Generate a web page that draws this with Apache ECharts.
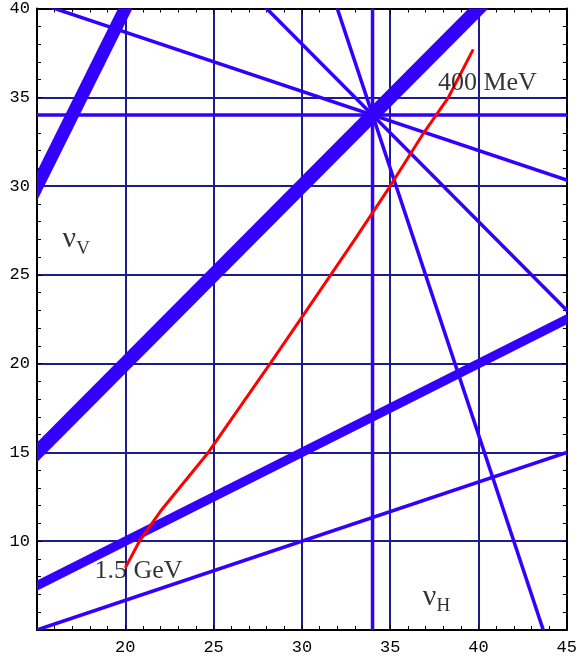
<!DOCTYPE html>
<html>
<head>
<meta charset="utf-8">
<script src="https://cdn.jsdelivr.net/npm/echarts@6/dist/echarts.min.js"></script>
<style>
html,body{margin:0;padding:0;background:#fff;}
#chart{width:580px;height:659px;}
</style>
</head>
<body>
<div id="chart"></div>
<script>
// Axis ranges and tick values
const xRange = [15, 45];
const yRange = [5, 40];
const xTickLabels = [20, 25, 30, 35, 40, 45];
const yTickLabels = [10, 15, 20, 25, 30, 35, 40];

// Resonance lines (endpoints in tune space)
const lineDiag   = [[14, 14], [41, 41]];        // nu_V = nu_H (thick)
const lineTwice  = [[14.5, 29], [20.5, 41]];    // nu_V = 2 nu_H (thick)
const lineHalf   = [[14, 7], [46, 23]];         // nu_V = nu_H / 2 (thick)
const lineThird  = [[14, 4.67], [46, 15.33]];   // nu_V = nu_H / 3
const lineX3Y    = [[13, 41], [46, 30]];        // nu_H + 3 nu_V = 136
const lineXY     = [[27, 41], [46, 22]];        // nu_H + nu_V = 68
const line3XY    = [[31.67, 41], [44, 4]];      // 3 nu_H + nu_V = 136
const lineV34    = [[34, 4], [34, 41]];         // nu_H = 34
const lineH34    = [[14, 34], [46, 34]];        // nu_V = 34

// Red tune path from 1.5 GeV to 400 MeV
const tunePath = [
  [20.0, 8.5], [20.8, 10.0], [22.0, 11.7], [24.7, 15.0], [28.2, 20.0],
  [30.4, 23.2], [33.0, 27.0], [35.0, 30.0], [36.9, 33.0], [38.3, 35.0], [39.7, 37.7]
];

// Text annotations
const labelPoints = [
  {pos: [37.7, 35.8], text: '{t|400 MeV}'},
  {pos: [18.25, 8.3], text: '{t|1.5 GeV}'},
  {pos: [16.45, 26.9], text: '{n|ν}{s|V}'},
  {pos: [36.85, 6.75], text: '{n|ν}{s|H}'}
];

const BLUE = '#3300ff';
const NAVY = '#1c1c8c';

function pathSeries(points, width, color, z) {
  return {
    type: 'custom', data: points, silent: true, clip: true, animation: false,
    xAxisIndex: 0, yAxisIndex: 0, z: z || 2,
    renderItem: function (params, api) {
      if (params.dataIndex !== 0) return null;
      const pts = points.map(p => api.coord(p));
      return {
        type: 'polyline',
        shape: {points: pts},
        style: {stroke: color || BLUE, lineWidth: width, fill: null, lineJoin: 'round'}
      };
    }
  };
}

const chart = echarts.init(document.getElementById('chart'), null, {renderer: 'canvas'});

const tickCommon = {
  axisLine: {show: true, onZero: false, lineStyle: {color: '#000', width: 2}},
  axisTick: {show: true, inside: true, length: 5, lineStyle: {color: '#000', width: 1}},
  minorTick: {show: true, splitNumber: 5, length: 4, lineStyle: {color: '#000', width: 1}},
};

const option = {
  backgroundColor: '#fff',
  animation: false,
  grid: {left: 37, right: 8, top: 8, bottom: 29, containLabel: false},
  xAxis: [
    Object.assign({
      type: 'value', position: 'bottom', min: xRange[0], max: xRange[1], interval: 5,
      splitLine: {show: true, lineStyle: {color: NAVY, width: 2}},
      axisLabel: {
        show: true, margin: 9, color: '#000', fontFamily: 'Liberation Mono', fontSize: 17,
        formatter: v => xTickLabels.includes(v) ? String(v) : ''
      }
    }, tickCommon),
    Object.assign({
      type: 'value', position: 'top', min: xRange[0], max: xRange[1], interval: 5,
      splitLine: {show: false}, axisLabel: {show: false}
    }, tickCommon)
  ],
  yAxis: [
    Object.assign({
      type: 'value', position: 'left', min: yRange[0], max: yRange[1], interval: 5,
      splitLine: {show: true, lineStyle: {color: NAVY, width: 2}},
      axisLabel: {
        show: true, margin: 7, color: '#000', fontFamily: 'Liberation Mono', fontSize: 17,
        formatter: v => yTickLabels.includes(v) ? String(v) : ''
      }
    }, tickCommon),
    Object.assign({
      type: 'value', position: 'right', min: yRange[0], max: yRange[1], interval: 5,
      splitLine: {show: false}, axisLabel: {show: false}
    }, tickCommon)
  ],
  series: [
    pathSeries(lineThird, 3.5),
    pathSeries(lineX3Y, 3.5),
    pathSeries(lineXY, 3.5),
    pathSeries(line3XY, 3.5),
    pathSeries(lineV34, 3.5),
    pathSeries(lineH34, 3.5),
    pathSeries(lineHalf, 9),
    pathSeries(lineTwice, 13),
    pathSeries(lineDiag, 14),
    pathSeries(tunePath, 3, '#ff0000', 3),
    {
      type: 'scatter', silent: true, animation: false, symbolSize: 0, z: 4,
      data: labelPoints.map(p => ({value: p.pos, label: {formatter: p.text}})),
      label: {
        show: true, position: 'right', distance: 0, color: '#000',
        rich: {
          t: {fontFamily: 'Liberation Serif', fontSize: 26, color: '#000'},
          n: {fontFamily: 'Liberation Serif', fontSize: 30, color: '#000', padding: [0, 0, 4, 0], verticalAlign: 'bottom'},
          s: {fontFamily: 'Liberation Serif', fontSize: 19, color: '#000', verticalAlign: 'bottom'}
        }
      }
    }
  ]
};
chart.setOption(option);
</script>
</body>
</html>
